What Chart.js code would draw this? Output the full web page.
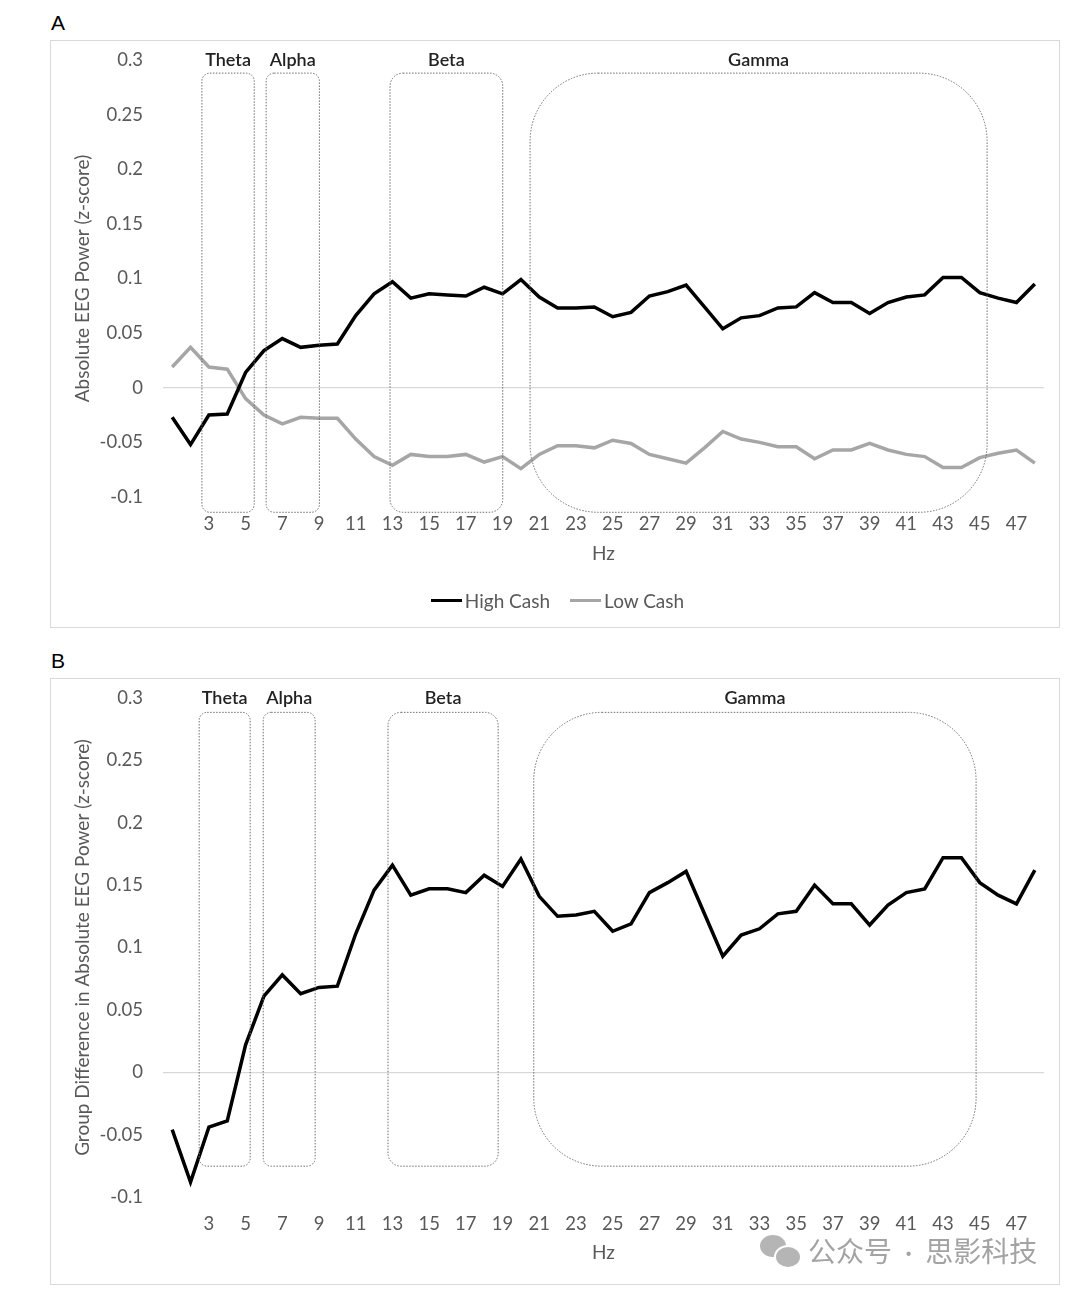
<!DOCTYPE html>
<html lang="en">
<head>
  <meta charset="UTF-8">
  <title>Absolute EEG Power by Frequency</title>
  <script src="https://cdn.jsdelivr.net/npm/chart.js"></script>
  <style>
    body {
      margin: 0;
      background: #fff;
      width: 1080px;
      height: 1294px;
      position: relative;
      font-family: Lato, sans-serif;
    }
    .panel-label {
      position: absolute;
      left: 51px;
      font: 21px "Liberation Sans", Arial, sans-serif;
      color: #000;
    }
    .frame {
      position: absolute;
      left: 50px;
      width: 1010px;
      border: 1px solid #d9d9d9;
      box-sizing: border-box;
    }
    canvas {
      position: absolute;
      left: 50px;
    }
    #legendA {
      position: absolute;
      left: 0;
      width: 1115px;
      top: 589px;
      display: flex;
      justify-content: center;
      gap: 20px;
      font: 19px Lato, sans-serif;
      color: #595959;
    }
    #legendA .item { display: flex; align-items: center; gap: 3px; }
    #legendA .swatch { display: inline-block; width: 31px; height: 3.5px; }
    .watermark {
      position: absolute;
      left: 760px;
      top: 1230px;
      display: flex;
      align-items: center;
      gap: 8px;
      font: 28px "Noto Sans CJK SC", sans-serif;
      color: #a3a3a3;
    }
    .watermark .dot { font-family: Lato, sans-serif; padding: 0 13px; }
    .wx { position: relative; width: 40px; height: 34px; }
    .wx span { position: absolute; background: #b5b5b5; border-radius: 50%; }
  </style>
</head>
<body>
  <div class="panel-label" style="top:11px">A</div>
  <div class="frame" style="top:40px;height:588px"></div>
  <canvas id="chartA" width="1010" height="588" style="top:40px"></canvas>
  <div id="legendA"></div>

  <div class="panel-label" style="top:649px">B</div>
  <div class="frame" style="top:678px;height:607px"></div>
  <canvas id="chartB" width="1010" height="607" style="top:678px"></canvas>

  <div class="watermark">
    <div class="wx"><span style="left:0;top:2px;width:26px;height:22px"></span><span style="left:14px;top:12px;width:24px;height:20px;border:2px solid #fff"></span></div>
    <div>公众号<span class="dot">·</span>思影科技</div>
  </div>

  <script>
    // frequency (Hz) categories
    const hz = [1, 2, 3, 4, 5, 6, 7, 8, 9, 10, 11, 12, 13, 14, 15, 16, 17, 18, 19, 20, 21, 22, 23, 24,
                25, 26, 27, 28, 29, 30, 31, 32, 33, 34, 35, 36, 37, 38, 39, 40, 41, 42, 43, 44, 45, 46, 47, 48];

    // panel A: absolute EEG power (z-score) per group
    const highCash = [-0.027, -0.052, -0.025, -0.024, 0.014, 0.034, 0.045, 0.037, 0.039, 0.040, 0.066, 0.086,
                      0.097, 0.082, 0.086, 0.085, 0.084, 0.092, 0.086, 0.099, 0.083, 0.073, 0.073, 0.074,
                      0.065, 0.069, 0.084, 0.088, 0.094, 0.074, 0.054, 0.064, 0.066, 0.073, 0.074, 0.087,
                      0.078, 0.078, 0.068, 0.078, 0.083, 0.085, 0.101, 0.101, 0.087, 0.082, 0.078, 0.095];
    const lowCash = [0.019, 0.037, 0.019, 0.017, -0.010, -0.025, -0.033, -0.027, -0.028, -0.028, -0.047, -0.063,
                     -0.071, -0.061, -0.063, -0.063, -0.061, -0.068, -0.063, -0.074, -0.061, -0.053, -0.053, -0.055,
                     -0.048, -0.051, -0.061, -0.065, -0.069, -0.055, -0.040, -0.047, -0.050, -0.054, -0.054, -0.065,
                     -0.057, -0.057, -0.051, -0.057, -0.061, -0.063, -0.073, -0.073, -0.064, -0.060, -0.057, -0.069];

    // panel B: group difference
    const groupDiff = [-0.046, -0.088, -0.044, -0.039, 0.022, 0.061, 0.078, 0.063, 0.068, 0.069, 0.111, 0.146,
                       0.166, 0.142, 0.147, 0.147, 0.144, 0.158, 0.149, 0.171, 0.141, 0.125, 0.126, 0.129,
                       0.113, 0.119, 0.144, 0.152, 0.161, 0.127, 0.093, 0.110, 0.115, 0.127, 0.129, 0.150,
                       0.135, 0.135, 0.118, 0.134, 0.144, 0.147, 0.172, 0.172, 0.152, 0.142, 0.135, 0.162];

    const yMin = -0.1;
    const yMax = 0.3;
    const yStep = 0.05;

    // frequency bands (Hz) outlined on each panel
    const bandNames = ['Theta', 'Alpha', 'Beta', 'Gamma'];
    const bandFromA = [2.62, 6.12, 12.87, 20.5];
    const bandToA = [5.47, 9.02, 19.01, 45.4];
    const bandFromB = [2.47, 5.96, 12.76, 20.7];
    const bandToB = [5.25, 8.79, 18.76, 44.8];

    const grey = '#595959';
    const tickFont = { family: 'Lato', size: 18.5 };
    const titleFont = { family: 'Lato', size: 19 };

    function roundedRect(ctx, x, y, w, h, r) {
      ctx.beginPath();
      ctx.moveTo(x + r, y);
      ctx.arcTo(x + w, y, x + w, y + h, r);
      ctx.arcTo(x + w, y + h, x, y + h, r);
      ctx.arcTo(x, y + h, x, y, r);
      ctx.arcTo(x, y, x + w, y, r);
      ctx.closePath();
    }

    // dotted rounded boxes + band names, placed through the chart scales
    function bandBoxes(from, to, boxTop, boxBottom) {
      return {
        id: 'bandBoxes',
        afterDatasetsDraw(chart) {
          const { ctx, scales: { x, y } } = chart;
          ctx.save();
          bandNames.forEach((name, i) => {
            const x0 = x.getPixelForValue(from[i] - 1);
            const x1 = x.getPixelForValue(to[i] - 1);
            const y0 = y.getPixelForValue(boxTop);
            const y1 = y.getPixelForValue(boxBottom);
            const r = name === 'Gamma' ? 68 : (name === 'Beta' ? 13 : 8);
            roundedRect(ctx, x0, y0, x1 - x0, y1 - y0, r);
            ctx.setLineDash([1.5, 1.5]);
            ctx.lineWidth = 1;
            ctx.strokeStyle = '#6e6e6e';
            ctx.stroke();
            ctx.setLineDash([]);
            ctx.fillStyle = '#222';
            ctx.font = '600 18px Lato';
            ctx.textAlign = 'center';
            ctx.textBaseline = 'middle';
            ctx.fillText(name, (x0 + x1) / 2, y.getPixelForValue(yMax));
          });
          ctx.restore();
        }
      };
    }

    function makeScales(yTitle, xHeight, hzPad) {
      return {
        x: {
          offset: true,
          afterFit: s => { s.height = xHeight; },
          border: { display: false },
          grid: { display: false, drawTicks: false },
          ticks: {
            autoSkip: false,
            maxRotation: 0,
            padding: 16,
            color: grey,
            font: tickFont,
            callback: (v, i) => (hz[i] % 2 === 1 && hz[i] >= 3) ? String(hz[i]) : ''
          },
          title: { display: true, text: 'Hz', color: grey, font: titleFont, padding: { top: 0, bottom: hzPad } }
        },
        y: {
          min: yMin,
          max: yMax,
          afterFit: s => { s.width = 113; },
          border: { display: false },
          // invisible tick marks keep the labels 20px off the plot without padding the top
          grid: {
            drawTicks: true,
            tickLength: 20,
            tickColor: 'rgba(0,0,0,0)',
            lineWidth: 1.3,
            color: c => Math.abs(c.tick.value) < 1e-9 ? '#d9d9d9' : 'rgba(0,0,0,0)'
          },
          ticks: {
            stepSize: yStep,
            padding: 0,
            color: grey,
            font: tickFont,
            callback: v => String(+v.toFixed(2))
          },
          title: { display: true, text: yTitle, color: grey, font: titleFont, padding: { top: 21.5, bottom: 0 } }
        }
      };
    }

    const chartA = new Chart(document.getElementById('chartA'), {
      type: 'line',
      data: {
        labels: hz,
        datasets: [
          { label: 'High Cash', data: highCash, borderColor: '#000', borderWidth: 3.5, pointRadius: 0, tension: 0 },
          { label: 'Low Cash', data: lowCash, borderColor: '#a6a6a6', borderWidth: 3.5, pointRadius: 0, tension: 0 }
        ]
      },
      options: {
        responsive: false,
        animation: false,
        layout: { padding: { top: 20, right: 16, left: 0, bottom: 55 } },
        plugins: {
          tooltip: { enabled: false },
          legend: { display: false }
        },
        scales: makeScales('Absolute EEG Power (z-score)', 76, 8)
      },
      plugins: [bandBoxes(bandFromA, bandToA, 0.288, -0.114)]
    });

    // legend for panel A built from the chart's datasets
    const legendA = document.getElementById('legendA');
    chartA.data.datasets.forEach(ds => {
      const item = document.createElement('span');
      item.className = 'item';
      const sw = document.createElement('span');
      sw.className = 'swatch';
      sw.style.background = ds.borderColor;
      item.appendChild(sw);
      item.appendChild(document.createTextNode(ds.label));
      legendA.appendChild(item);
    });

    new Chart(document.getElementById('chartB'), {
      type: 'line',
      data: {
        labels: hz,
        datasets: [
          { label: 'Group Difference', data: groupDiff, borderColor: '#000', borderWidth: 3.5, pointRadius: 0, tension: 0 }
        ]
      },
      options: {
        responsive: false,
        animation: false,
        layout: { padding: { top: 20, right: 16, left: 0, bottom: 0 } },
        plugins: {
          tooltip: { enabled: false },
          legend: { display: false }
        },
        scales: makeScales('Group Difference in Absolute EEG Power (z-score)', 88, 20.5)
      },
      plugins: [bandBoxes(bandFromB, bandToB, 0.2885, -0.0753)]
    });
  </script>
</body>
</html>
